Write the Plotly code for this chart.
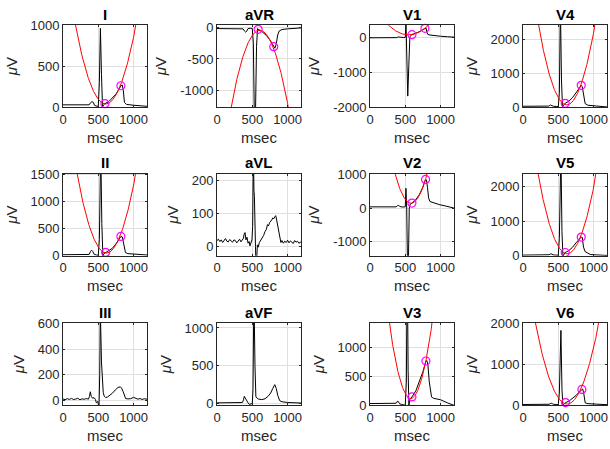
import numpy as np
import plotly.graph_objects as go

# ---------------------------------------------------------------- data
LEADS = ["I", "aVR", "V1", "V4",
         "II", "aVL", "V2", "V5",
         "III", "aVF", "V3", "V6"]

# averaged beat per lead: time (msec) / amplitude (uV) break points
t_I = [0, 100, 200, 300, 370, 390, 410, 430, 445, 470, 500, 515, 530, 545, 560, 575, 594, 650, 700, 750, 800, 820, 840, 855, 870, 900, 1000, 1100, 1190]
v_I = [30, 28, 30, 27, 30, 55, 68, 60, 25, 15, 12, 300, 960, 400, 0, 30, 44, 70, 110, 160, 230, 262, 270, 200, 60, 35, 25, 18, 12]

t_aVR = [0, 100, 200, 300, 370, 390, 405, 420, 440, 470, 500, 515, 530, 545, 560, 575, 583, 650, 700, 750, 804, 820, 840, 860, 880, 920, 1000, 1100, 1190]
v_aVR = [-20, -22, -20, -25, -25, -60, -75, -65, -20, -15, -20, -250, -1500, -1400, -300, -20, -32, -80, -130, -200, -306, -330, -260, -120, -60, -35, -25, -15, -10]

t_V1 = [0, 100, 200, 300, 380, 400, 420, 440, 480, 500, 510, 520, 535, 550, 565, 594, 650, 700, 750, 778, 795, 805, 820, 850, 900, 1000, 1100, 1190]
v_V1 = [-15, -15, -10, -15, -10, 10, 15, 0, -10, 0, 400, -600, -1680, -800, 20, 74, 110, 160, 220, 257, 262, 150, 80, 65, 50, 30, 15, 5]

t_V4 = [0, 100, 200, 300, 360, 380, 390, 410, 430, 470, 500, 515, 530, 545, 560, 575, 598, 650, 700, 750, 800, 825, 840, 860, 880, 920, 1000, 1100, 1190]
v_V4 = [30, 28, 25, 30, 35, 55, 65, 50, 30, 25, 20, 400, 3000, 800, 0, 60, 117, 180, 280, 420, 580, 643, 600, 300, 110, 60, 40, 20, 10]

t_II = [0, 100, 200, 300, 370, 390, 405, 420, 440, 470, 500, 515, 535, 550, 565, 580, 604, 650, 700, 750, 800, 820, 840, 860, 885, 920, 1000, 1100, 1190]
v_II = [20, 18, 20, 22, 25, 80, 105, 85, 30, 15, 10, 300, 2000, 600, 0, 40, 63, 90, 140, 220, 320, 359, 350, 200, 60, 40, 30, 20, 15]

t_aVL = [0, 20, 40, 60, 80, 100, 120, 140, 160, 180, 200, 220, 240, 260, 280, 300, 320, 340, 360,
         375, 385, 397, 410, 425, 440, 455, 467, 480, 495, 505, 516, 523, 530, 545, 553, 562, 572, 584,
         600, 620, 640, 660, 680, 700, 715, 730, 745, 760, 775, 790, 805, 820, 832, 845, 860, 875, 890,
         905, 920, 940, 960, 980, 1000, 1020, 1040, 1060, 1080, 1100, 1120, 1140, 1160, 1190]
v_aVL = [18, 22, 15, 20, 12, 19, 24, 16, 14, 21, 17, 13, 20, 18, 11, 16, 22, 14, 19,
         25, 38, 42, 20, 28, 10, 15, 2, 12, 20, 60, 300, 170, 150, 0, -60, -40, 5, -2,
         12, 18, 25, 33, 45, 52, 66, 62, 72, 75, 80, 86, 84, 90, 93, 80, 60, 40, 23,
         12, 18, 10, 16, 12, 19, 11, 17, 14, 9, 18, 13, 16, 10, 14]

t_V2 = [0, 100, 200, 300, 370, 390, 400, 415, 440, 480, 500, 509, 520, 530, 545, 556, 570, 594, 650, 700, 750, 787, 800, 815, 830, 849, 900, 990, 1050, 1120, 1190]
v_V2 = [35, 30, 30, 25, 35, 70, 80, 60, 35, 30, 40, 583, 0, -1500, -1500, 0, 120, 146, 250, 400, 620, 845, 830, 600, 300, 192, 150, 96, 70, 35, 0]

t_V5 = [0, 100, 200, 300, 370, 385, 396, 410, 430, 470, 500, 515, 537, 552, 566, 580, 598, 650, 700, 750, 800, 825, 840, 857, 880, 920, 952, 1000, 1100, 1190]
v_V5 = [20, 22, 20, 25, 30, 50, 58, 45, 25, 20, 15, 500, 3000, 700, -20, 40, 95, 150, 240, 370, 500, 539, 530, 250, 120, 70, 40, 30, 15, 10]

t_III = [0, 30, 60, 90, 120, 150, 180, 210, 240, 270, 300, 330, 360, 375, 387, 400, 420, 440, 460, 472, 495, 509, 520, 529, 545, 557, 570, 585,
         604, 630, 660, 700, 740, 780, 812, 830, 850, 870, 887, 920, 960, 1000, 1030, 1060, 1090, 1120, 1150, 1190]
v_III = [10, 4, 12, 6, 14, 5, 9, 15, 3, 11, 7, 13, 8, 30, 66, 30, 15, 20, 5, -20, -10, -80, 200, 700, 300, 130, 60, 30,
         21, 25, 35, 55, 80, 100, 105, 95, 70, 35, 13, 10, 12, 22, 14, 8, 13, 6, 11, 8]

t_aVF = [0, 100, 200, 300, 360, 375, 387, 400, 420, 440, 457, 480, 500, 510, 523, 538, 551, 565, 590, 635, 680, 724, 760, 790, 818, 840, 860, 888, 920, 1000, 1100, 1190]
v_aVF = [10, 12, 10, 12, 15, 50, 97, 75, 30, 10, -10, -5, 0, 200, 1500, 500, 90, 75, 60, 53, 65, 97, 140, 200, 251, 200, 110, 40, 25, 15, 10, 8]

t_V3 = [0, 100, 200, 300, 370, 385, 392, 405, 420, 450, 480, 500, 515, 528, 540, 551, 565, 594, 650, 700, 750, 792, 805, 820, 840, 872, 900, 950, 1000, 1100, 1190]
v_V3 = [30, 30, 28, 25, 35, 60, 75, 55, 25, 15, 10, 0, 400, 2500, 600, 0, 100, 144, 250, 400, 580, 762, 770, 700, 400, 144, 120, 108, 95, 40, 0]

t_V6 = [0, 100, 200, 300, 370, 385, 400, 415, 430, 470, 500, 515, 537, 552, 565, 580, 603, 650, 700, 750, 800, 834, 845, 860, 881, 920, 1000, 1100, 1190]
v_V6 = [20, 22, 18, 20, 25, 40, 50, 40, 25, 20, 15, 300, 1835, 400, -10, 30, 67, 100, 160, 240, 330, 388, 400, 300, 60, 40, 30, 20, 15]

beat_t = {"I": t_I, "aVR": t_aVR, "V1": t_V1, "V4": t_V4, "II": t_II, "aVL": t_aVL,
          "V2": t_V2, "V5": t_V5, "III": t_III, "aVF": t_aVF, "V3": t_V3, "V6": t_V6}
beat_v = {"I": v_I, "aVR": v_aVR, "V1": v_V1, "V4": v_V4, "II": v_II, "aVL": v_aVL,
          "V2": v_V2, "V5": v_V5, "III": v_III, "aVF": v_aVF, "V3": v_V3, "V6": v_V6}

# ST-segment quadratic fit  y = k + a (t - h)^2   (leads with a fit only)
fit_h = {"I": 605, "aVR": 605, "V1": 545, "V4": 620, "II": 615, "V2": 582, "V5": 625, "V3": 577, "V6": 625}
fit_k = {"I": 40, "aVR": -45, "V1": 70, "V4": 70, "II": 50, "V2": 140, "V5": 58, "V3": 116, "V6": 30}
fit_a = {"I": 0.0052, "aVR": -0.0074, "V1": 0.00344, "V4": 0.0146, "II": 0.0085, "V2": 0.0169,
         "V5": 0.0135, "V3": 0.0141, "V6": 0.0098}

# fit anchor points (start / end of the fitted interval)
anchor_t = {"I": [594, 820], "aVR": [583, 804], "V1": [594, 778], "V4": [598, 825], "II": [604, 820],
            "V2": [594, 787], "V5": [598, 825], "V3": [594, 792], "V6": [603, 834]}
anchor_v = {"I": [44, 262], "aVR": [-32, -306], "V1": [74, 257], "V4": [117, 643], "II": [63, 359],
            "V2": [146, 845], "V5": [95, 539], "V3": [144, 762], "V6": [67, 388]}

# axis limits and ticks
y_lim = {"I": [0, 1000], "aVR": [-1262, 36], "V1": [-2000, 351], "V4": [0, 2410],
         "II": [0, 1526], "aVL": [-28, 220], "V2": [-1410, 1020], "V5": [0, 2366],
         "III": [-40, 605], "aVF": [-22, 1066], "V3": [0, 1416], "V6": [0, 2016]}
y_ticks = {"I": [0, 500, 1000], "aVR": [-1000, -500, 0], "V1": [-2000, -1000, 0], "V4": [0, 1000, 2000],
           "II": [0, 500, 1000, 1500], "aVL": [0, 100, 200], "V2": [-1000, 0, 1000], "V5": [0, 1000, 2000],
           "III": [0, 200, 400, 600], "aVF": [0, 500, 1000], "V3": [0, 500, 1000], "V6": [0, 1000, 2000]}
x_lim = [0, 1190]
x_ticks = [0, 500, 1000]

# ---------------------------------------------------------------- layout geometry (px)
W, H = 610, 449
col_left = [63, 217, 370, 523]
ax_w = 84
row_top = [25, 173.5, 323]
ax_h = 82.3

FONT = "Liberation Sans, Arial, Helvetica, sans-serif"
AXC = "#262626"
GRIDC = "#dfdfdf"

fig = go.Figure()
layout = dict(width=W, height=H,
              margin=dict(l=0, r=0, t=0, b=0, pad=0, autoexpand=False),
              paper_bgcolor="white", plot_bgcolor="white", showlegend=False,
              font=dict(family=FONT, size=13, color=AXC))
annotations = []
t_fit = np.arange(x_lim[0], x_lim[1] + 1, 5)

for i, lead in enumerate(LEADS):
    r, c = divmod(i, 4)
    n = "" if i == 0 else str(i + 1)
    xa, ya = "x" + n, "y" + n
    x0 = col_left[c] / W
    x1 = (col_left[c] + ax_w) / W
    y1 = 1 - row_top[r] / H
    y0 = 1 - (row_top[r] + ax_h) / H

    fig.add_trace(go.Scatter(x=beat_t[lead], y=beat_v[lead], mode="lines",
                             line=dict(color="black", width=1), xaxis=xa, yaxis=ya,
                             hoverinfo="skip"))
    if lead in fit_h:
        y_fit = fit_k[lead] + fit_a[lead] * (t_fit - fit_h[lead]) ** 2
        fig.add_trace(go.Scatter(x=t_fit, y=y_fit, mode="lines",
                                 line=dict(color="#ff0000", width=1), xaxis=xa, yaxis=ya,
                                 hoverinfo="skip"))
        fig.add_trace(go.Scatter(x=anchor_t[lead], y=anchor_v[lead], mode="markers",
                                 marker=dict(symbol="circle-open", size=8, color="#ff00ff",
                                             line=dict(width=1.2)),
                                 xaxis=xa, yaxis=ya, cliponaxis=False, hoverinfo="skip"))

    common = dict(showline=True, mirror="ticks", linecolor=AXC, linewidth=1,
                  showgrid=True, gridcolor=GRIDC, gridwidth=1, zeroline=False,
                  ticks="inside", ticklen=2, tickcolor=AXC, automargin=False,
                  tickfont=dict(family=FONT, size=13, color=AXC))
    layout["xaxis" + n] = dict(common, domain=[x0, x1], anchor=ya, range=x_lim,
                               tickmode="array", tickvals=x_ticks,
                               ticktext=[str(v) for v in x_ticks],
                               title=dict(text="msec", standoff=6,
                                          font=dict(family=FONT, size=15, color=AXC)))
    layout["yaxis" + n] = dict(common, domain=[y0, y1], anchor=xa, range=y_lim[lead],
                               tickmode="array", tickvals=y_ticks[lead],
                               ticktext=[str(v) for v in y_ticks[lead]],
                               title=dict(text="<i>μ</i>V", standoff=9,
                                          font=dict(family=FONT, size=15, color=AXC)))
    annotations.append(dict(text="<b>%s</b>" % lead, xref="paper", yref="paper",
                            x=(x0 + x1) / 2, y=1 - (row_top[r] - 11) / H,
                            xanchor="center", yanchor="middle", showarrow=False,
                            font=dict(family=FONT, size=15, color="black")))

layout["annotations"] = annotations
fig.update_layout(**layout)
fig.write_html("out.html")
